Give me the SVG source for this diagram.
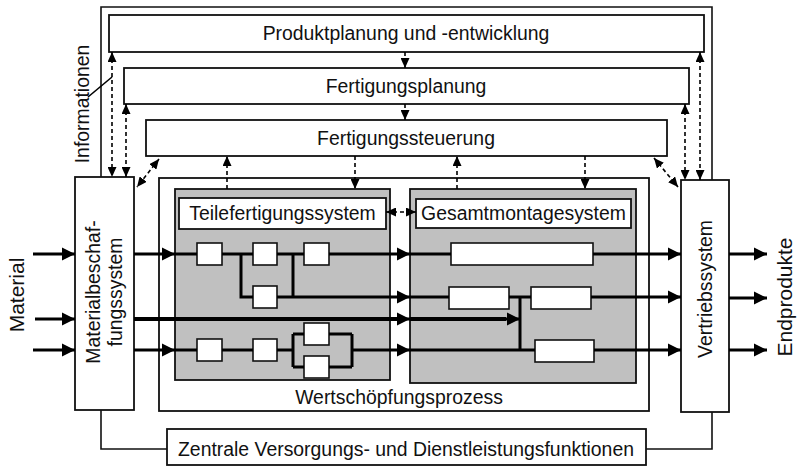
<svg xmlns="http://www.w3.org/2000/svg" width="798" height="467" viewBox="0 0 798 467">
<style>
text{font-family:"Liberation Sans",Arial,sans-serif;font-size:19.4px;fill:#111;text-anchor:middle}
.big{font-size:21px}
.box{fill:#fff;stroke:#111;stroke-width:1.8}
.gray{fill:#c0c0c0;stroke:#111;stroke-width:1.8}
.sb{fill:#fff;stroke:#111;stroke-width:1.6}
.frame{fill:none;stroke:#111;stroke-width:1.6}
.flow{fill:none;stroke:#000;stroke-width:3}
.thick{fill:none;stroke:#000;stroke-width:4}
.fa{fill:none;stroke:#000;stroke-width:3;marker-end:url(#ah)}
.dash{fill:none;stroke:#000;stroke-width:1.6;stroke-dasharray:4 3}
.d1{marker-end:url(#dh)}
.d2{marker-end:url(#dh);marker-start:url(#dh)}
</style>
<defs>
<marker id="ah" markerUnits="userSpaceOnUse" markerWidth="14" markerHeight="14" refX="13" refY="7" orient="auto"><path d="M0,0.5 L13,7 L0,13.5 z" fill="#000"/></marker>
<marker id="dh" markerUnits="userSpaceOnUse" markerWidth="10" markerHeight="9" refX="10" refY="4.5" orient="auto-start-reverse"><path d="M0,0 L10,4.5 L0,9 z" fill="#000"/></marker>
</defs>

<g id="frame-lines">
<path class="frame" d="M101,177 V7 H712 V180"/>
<path class="frame" d="M101,410 V449 H167"/>
<path class="frame" d="M712,412 V449 H646"/>
</g>

<g id="produktplanung"><rect class="box" x="109" y="15" width="595" height="37"/><text x="406" y="40">Produktplanung und -entwicklung</text></g>
<g id="fertigungsplanung"><rect class="box" x="124" y="68" width="565" height="36"/><text x="406" y="93">Fertigungsplanung</text></g>
<g id="fertigungssteuerung"><rect class="box" x="146" y="120" width="521" height="36"/><text x="406" y="145">Fertigungssteuerung</text></g>

<g id="wertschoepfung"><rect class="box" x="159" y="178" width="490" height="233"/><text x="399" y="404">Wertschöpfungsprozess</text></g>
<g id="teilefertigung"><rect class="gray" x="175" y="189" width="215" height="191"/><rect class="box" x="179" y="198" width="207" height="31"/><text x="282.5" y="220">Teilefertigungssystem</text></g>
<g id="gesamtmontage"><rect class="gray" x="410" y="189" width="226" height="194"/><rect class="box" x="416" y="199" width="215" height="29"/><text x="523.5" y="220">Gesamtmontagesystem</text></g>

<g id="materialbeschaffung"><rect class="box" x="75" y="177" width="59" height="233"/>
<text transform="translate(100,292) rotate(-90)">Materialbeschaf-</text>
<text transform="translate(122,292) rotate(-90)">fungssystem</text></g>
<g id="vertrieb"><rect class="box" x="681" y="180" width="48" height="232"/><text transform="translate(712,289) rotate(-90)">Vertriebssystem</text></g>
<g id="zentrale"><rect class="box" x="167" y="429" width="479" height="36"/><text x="406" y="456">Zentrale Versorgungs- und Dienstleistungsfunktionen</text></g>

<g id="labels">
<text class="big" transform="translate(24,295) rotate(-90)">Material</text>
<text class="big" transform="translate(792,297) rotate(-90)">Endprodukte</text>
<text transform="translate(89,104) rotate(-90)">Informationen</text>
<path d="M88,97 L112,77" fill="none" stroke="#000" stroke-width="1.6"/>
</g>

<g id="stations">
<rect class="sb" x="197" y="243" width="25" height="22"/>
<rect class="sb" x="253" y="243" width="24" height="22"/>
<rect class="sb" x="304" y="243" width="25" height="22"/>
<rect class="sb" x="253" y="286" width="24" height="22"/>
<rect class="sb" x="197" y="339" width="25" height="22"/>
<rect class="sb" x="253" y="339" width="24" height="22"/>
<rect class="sb" x="304" y="323" width="25" height="22"/>
<rect class="sb" x="304" y="356" width="25" height="22"/>
<rect class="sb" x="451" y="243" width="142" height="22"/>
<rect class="sb" x="449" y="287" width="60" height="22"/>
<rect class="sb" x="531" y="287" width="60" height="22"/>
<rect class="sb" x="535" y="340" width="59" height="22"/>
</g>

<g id="connectors">
<path class="fa" d="M33,254 H75"/>
<path class="fa" d="M35,319 H75"/>
<path class="fa" d="M33,350 H75"/>
<path class="fa" d="M134,254 H175"/>
<path class="flow" d="M175,254 H197 M222,254 H253 M277,254 H304"/>
<path class="fa" d="M329,254 H410"/>
<path class="flow" d="M410,254 H451"/>
<path class="fa" d="M593,254 H681"/>
<path class="flow" d="M241,254 V297 H253 M293,254 V297"/>
<path class="fa" d="M277,297 H410"/>
<path class="flow" d="M410,297 H449 M509,297 H531 M520,297 V350"/>
<path class="fa" d="M591,297 H681"/>
<path class="thick" d="M134,319 H398"/>
<path class="fa" d="M380,319 H410"/>
<path class="thick" d="M410,319 H506"/>
<path class="fa" d="M500,319 H520"/>
<path class="fa" d="M134,350 H175"/>
<path class="flow" d="M175,350 H197 M222,350 H253 M277,350 H293 M293,334 V367 M293,334 H304 M293,367 H304 M329,334 H352 M329,367 H352 M352,334 V367"/>
<path class="fa" d="M352,350 H410"/>
<path class="flow" d="M410,350 H535"/>
<path class="fa" d="M594,350 H681"/>
<path class="fa" d="M729,254 H767"/>
<path class="fa" d="M729,298 H767"/>
<path class="fa" d="M729,350 H767"/>
<path class="dash d2" d="M112,52 V177"/>
<path class="dash d2" d="M126,104 V177"/>
<path class="dash d2" d="M700,52 V180"/>
<path class="dash d2" d="M685,104 V180"/>
<path class="dash d1" d="M405,52 V68"/>
<path class="dash d1" d="M405,104 V120"/>
<path class="dash d1" d="M355,156 V189"/>
<path class="dash d1" d="M585,156 V189"/>
<path class="dash d1" d="M227,189 V156"/>
<path class="dash d1" d="M457,189 V156"/>
<path class="dash d2" d="M159,159 L137,187"/>
<path class="dash d2" d="M654,158 L678,187"/>
<path class="dash d2" d="M386,212 H416"/>
</g>
</svg>
